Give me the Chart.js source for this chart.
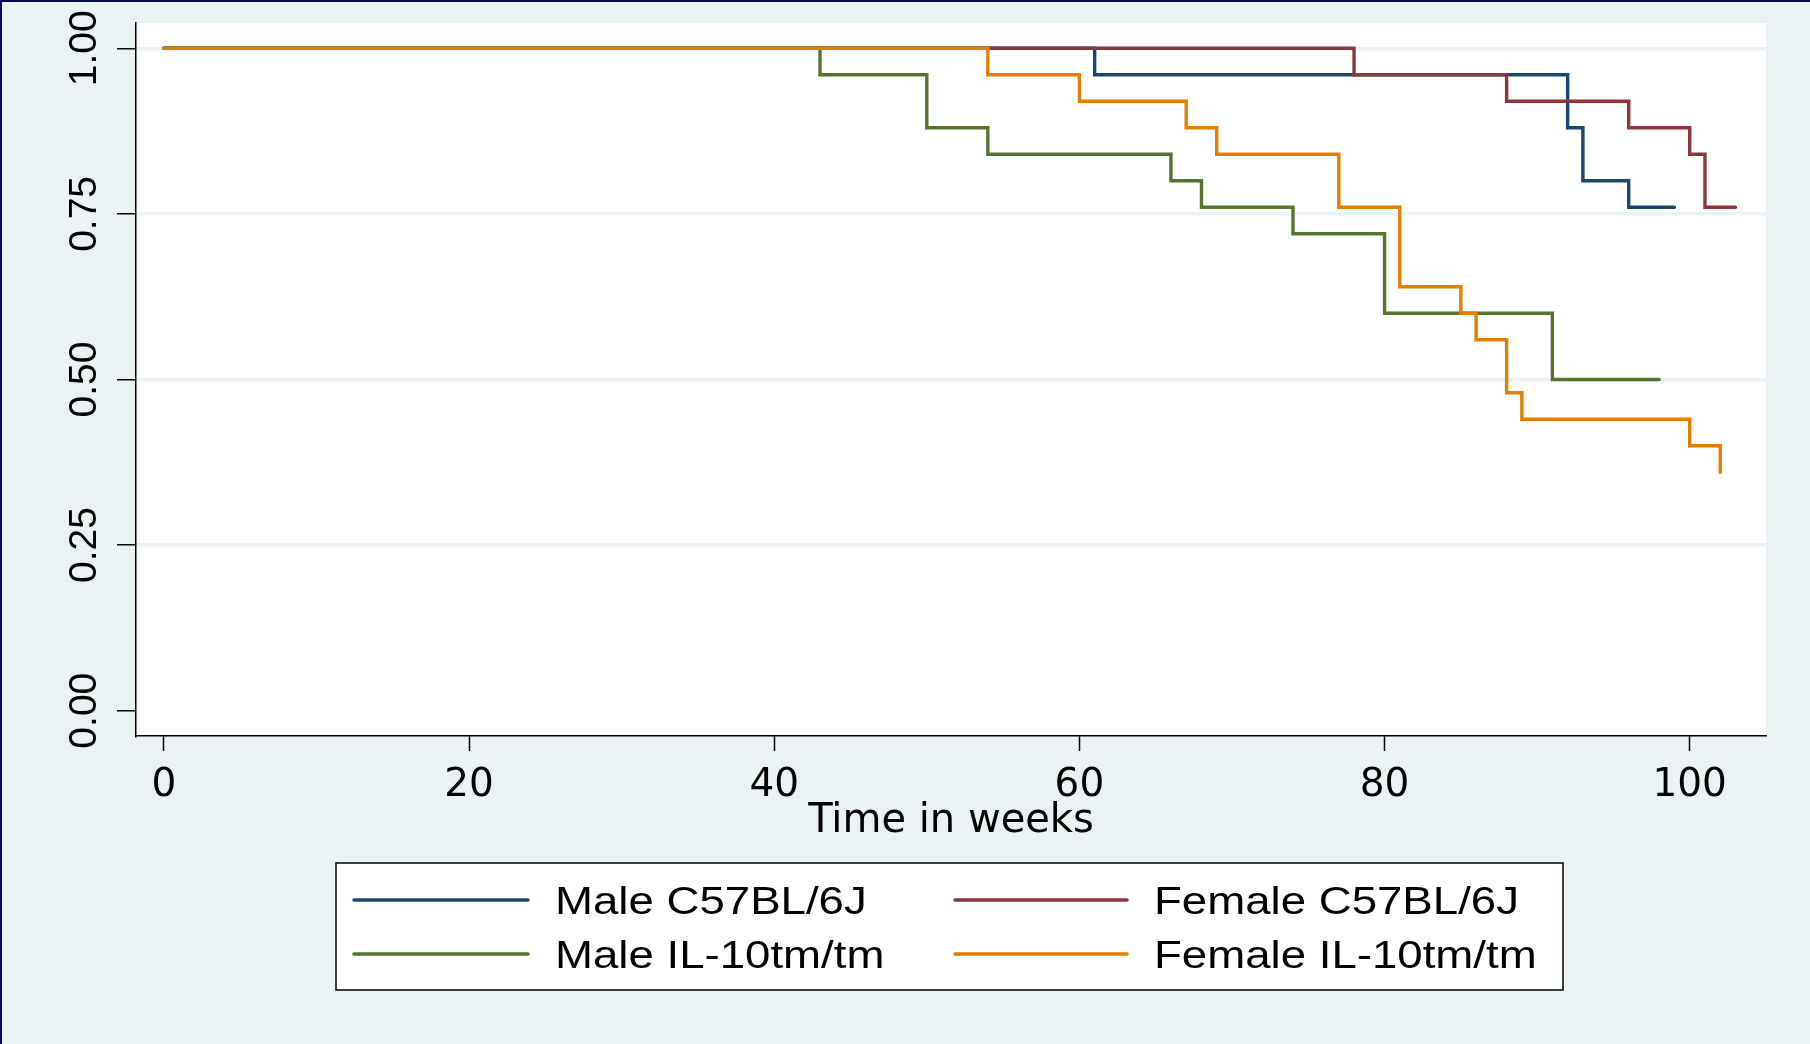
<!DOCTYPE html>
<html>
<head>
<meta charset="utf-8">
<script src="https://cdn.jsdelivr.net/npm/chart.js@4.4.1/dist/chart.umd.min.js"></script>
<style>
  html, body { margin: 0; padding: 0; overflow: hidden; background: #EAF2F3; }
  #wrap { position: relative; width: 1810px; height: 1044px; }
</style>
</head>
<body>
<div id="wrap"><canvas id="km"></canvas></div>
<script>
// === Datos (Kaplan-Meier, semanas / supervivencia) ===
var maleC57Times   = [0, 61, 92, 93, 96, 99];
var maleC57Surv    = [1.00, 0.96, 0.88, 0.80, 0.76, 0.76];
var femaleC57Times = [0, 78, 88, 96, 100, 101, 103];
var femaleC57Surv  = [1.00, 0.96, 0.92, 0.88, 0.84, 0.76, 0.76];
var maleIL10Times  = [0, 43, 50, 54, 66, 68, 74, 80, 91, 98];
var maleIL10Surv   = [1.00, 0.96, 0.88, 0.84, 0.80, 0.76, 0.72, 0.60, 0.50, 0.50];
var femaleIL10Times = [0, 54, 60, 67, 69, 77, 81, 85, 86, 88, 89, 100, 102];
var femaleIL10Surv  = [1.00, 0.96, 0.92, 0.88, 0.84, 0.76, 0.64, 0.60, 0.56, 0.48, 0.44, 0.40, 0.36];

var seriesLabels = ['Male C57BL/6J', 'Female C57BL/6J', 'Male IL-10tm/tm', 'Female IL-10tm/tm'];
var xTickValues = [0, 20, 40, 60, 80, 100];
var yTickValues = [0, 0.25, 0.5, 0.75, 1];

// === Colores ===
var C_BG = '#EAF2F3';
var C_FRAME = '#03036A';
var colores = ['#1A476F', '#90353B', '#55752F', '#E37E00'];

function pares(ts, ss) {
  return ts.map(function (t, i) { return { x: t, y: ss[i] }; });
}

var series = [
  pares(maleC57Times, maleC57Surv),
  pares(femaleC57Times, femaleC57Surv),
  pares(maleIL10Times, maleIL10Surv),
  pares(femaleIL10Times, femaleIL10Surv)
];

var datasets = series.map(function (d, i) {
  return {
    label: seriesLabels[i],
    data: d,
    borderColor: colores[i],
    backgroundColor: colores[i],
    borderWidth: 3.4,
    borderCapStyle: 'round',
    stepped: true,
    pointRadius: 0,
    fill: false,
    order: 4 - i   // naranja encima
  };
});

// fondo gris azulado, marco y area blanca
var fondo = {
  id: 'fondo',
  beforeDraw: function (chart) {
    var ctx = chart.ctx, a = chart.chartArea;
    ctx.save();
    ctx.fillStyle = C_BG;
    ctx.fillRect(0, 0, chart.width, chart.height);
    ctx.fillStyle = C_FRAME;
    ctx.fillRect(0, 0, chart.width, 2);
    ctx.fillRect(0, 0, 2, chart.height);
    ctx.fillStyle = '#ffffff';
    ctx.fillRect(a.left, a.top, a.right - a.left, a.bottom - a.top);
    ctx.restore();
  }
};

// leyenda en caja 2x2
var leyenda = {
  id: 'leyenda',
  afterDraw: function (chart) {
    var ctx = chart.ctx;
    var box = { x: 336, y: 863, w: 1227, h: 127 };
    var rows = [900, 954];
    var cols = [{ l0: 354, l1: 528, tx: 555 }, { l0: 955, l1: 1127, tx: 1154 }];
    ctx.save();
    ctx.fillStyle = '#ffffff';
    ctx.fillRect(box.x, box.y, box.w, box.h);
    ctx.strokeStyle = '#000000';
    ctx.lineWidth = 1.5;
    ctx.strokeRect(box.x, box.y, box.w, box.h);
    chart.data.datasets.forEach(function (ds, i) {
      var r = rows[Math.floor(i / 2)], c = cols[i % 2];
      ctx.strokeStyle = ds.borderColor;
      ctx.lineWidth = 3.5;
      ctx.lineCap = 'round';
      ctx.beginPath();
      ctx.moveTo(c.l0, r);
      ctx.lineTo(c.l1, r);
      ctx.stroke();
      ctx.save();
      ctx.translate(c.tx, r);
      ctx.scale(1.2, 1);
      ctx.fillStyle = '#000000';
      ctx.font = '38px "Liberation Sans", Arial, sans-serif';
      ctx.textBaseline = 'middle';
      ctx.textAlign = 'left';
      ctx.fillText(ds.label, 0, 4);
      ctx.restore();
    });
    ctx.restore();
  }
};

var config = {
  type: 'line',
  data: { datasets: datasets },
  options: {
    responsive: true,
    maintainAspectRatio: false,
    animation: false,
    layout: { padding: { left: 0, top: 23, right: 44, bottom: 198 } },
    plugins: {
      legend: { display: false },
      tooltip: { enabled: false },
      title: { display: false }
    },
    scales: {
      x: {
        type: 'linear',
        min: -1.83,
        max: 105,
        afterBuildTicks: function (s) {
          s.ticks = xTickValues.map(function (v) { return { value: v }; });
        },
        afterFit: function (s) { s.height = 110; },
        grid: { drawOnChartArea: false, drawTicks: true, tickLength: 15, tickColor: '#000', tickWidth: 1.5 },
        border: { display: true, color: '#000', width: 1.5 },
        ticks: {
          padding: 11,
          color: '#000',
          maxRotation: 0,
          font: { family: '"DejaVu Sans", sans-serif', size: 39 }
        },
        title: {
          display: true,
          text: 'Time in weeks',
          color: '#000',
          padding: { top: 0, bottom: 0 },
          font: { family: '"DejaVu Sans", sans-serif', size: 40 }
        }
      },
      y: {
        type: 'linear',
        min: -0.0382,
        max: 1.0382,
        afterBuildTicks: function (s) {
          s.ticks = yTickValues.map(function (v) { return { value: v }; });
        },
        afterFit: function (s) { s.width = 136; },
        grid: {
          color: function (c) { return c.tick && c.tick.value === 0 ? 'rgba(0,0,0,0)' : C_BG; },
          lineWidth: 3.5,
          drawTicks: true,
          tickLength: 19,
          tickColor: '#000',
          tickWidth: 1.5
        },
        border: { display: true, color: '#000', width: 1.5 },
        ticks: {
          minRotation: 90,
          maxRotation: 90,
          crossAlign: 'center',
          padding: -6,
          color: '#000',
          font: { family: '"Liberation Sans", Arial, sans-serif', size: 39 },
          callback: function (v) { return Number(v).toFixed(2); }
        }
      }
    }
  },
  plugins: [fondo, leyenda]
};

var canvas = document.getElementById('km');
if (!canvas || typeof Chart === 'undefined') {
  console.error('Chart.js no esta cargado.');
} else {
  new Chart(canvas, config);
}
</script>
</body>
</html>
